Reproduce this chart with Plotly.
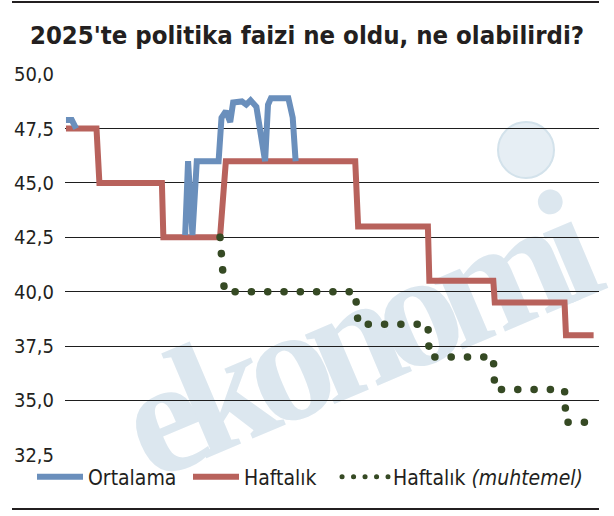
import plotly.graph_objects as go

# --- data ---
blue_dates = ["2025-01-01", "2025-01-05", "2025-01-08", "2025-02-15",
              "2025-03-24", "2025-03-26", "2025-03-29", "2025-04-01", "2025-04-16",
              "2025-04-18", "2025-04-21", "2025-04-24", "2025-04-26", "2025-05-02",
              "2025-05-05", "2025-05-08", "2025-05-12", "2025-05-18", "2025-05-20",
              "2025-05-22", "2025-06-03", "2025-06-06", "2025-06-08"]
blue_vals = [47.9, 47.9, 47.5, None,
             42.6, 46.0, 42.6, 46.0, 46.0,
             48.0, 48.3, 47.8, 48.7, 48.75,
             48.6, 48.8, 48.5, 46.0, 48.6,
             48.9, 48.9, 48.0, 46.0]

red_dates = ["2025-01-01", "2025-01-22", "2025-01-24", "2025-03-08", "2025-03-09",
             "2025-04-17", "2025-04-21", "2025-07-19", "2025-07-21", "2025-09-07",
             "2025-09-08", "2025-10-22", "2025-10-23", "2025-12-10", "2025-12-11",
             "2025-12-30"]
red_vals = [47.5, 47.5, 45, 45, 42.5, 42.5, 46, 46, 43, 43, 40.5, 40.5, 39.5, 39.5, 38, 38]

green_dates = ["2025-04-17", "2025-04-20", "2025-07-19", "2025-07-21", "2025-09-07",
               "2025-09-08", "2025-10-22", "2025-10-23", "2025-12-10", "2025-12-11",
               "2025-12-30"]
green_vals = [42.5, 40, 40, 38.5, 38.5, 37, 37, 35.5, 35.5, 34, 34]

y_ticks = [32.5, 35.0, 37.5, 40.0, 42.5, 45.0, 47.5, 50.0]

FONT = "DejaVu Sans Condensed, Liberation Sans Narrow, DejaVu Sans, sans-serif"
INK = "#231f20"
BLUE = "#6a8fbc"
RED = "#b8625c"
GREEN = "#364a24"

fig = go.Figure()
fig.add_trace(go.Scatter(x=red_dates, y=red_vals, mode="lines", name="Haftalık",
                         line=dict(color=RED, width=6), legend="legend2"))
fig.add_trace(go.Scatter(x=green_dates, y=green_vals, mode="lines", uid="muhtemel",
                         name="Haftalık <i>(muhtemel)</i>",
                         line=dict(color=GREEN, width=7.5, dash="0.1px,16.2px"),
                         legend="legend3"))
fig.add_trace(go.Scatter(x=blue_dates, y=blue_vals, mode="lines", name="Ortalama",
                         line=dict(color=BLUE, width=6), legend="legend"))

# paper coords: plot area is x 65..599, y 74..455 px
def px(x):
    return (x - 65) / 534

def py(y):
    return (455 - y) / 381

shapes = [
    # watermark text
    dict(type="rect", xref="paper", yref="paper", layer="below",
         x0=px(344) - 0.4, x1=px(344) + 0.4, y0=py(320) - 0.3, y1=py(320) + 0.3,
         line=dict(width=0), fillcolor="rgba(0,0,0,0)",
         label=dict(text="ekonomi", textangle=-23, textposition="middle center",
                    font=dict(family="Liberation Serif, DejaVu Serif, serif", size=164,
                              color="#dce7ef", weight="bold"))),
    # watermark globe
    dict(type="circle", xref="paper", yref="paper", layer="below",
         x0=px(498), x1=px(554), y0=py(178), y1=py(122),
         fillcolor="#e6eef4", line=dict(color="#d3e2eb", width=2)),
    # frame lines top and bottom
    dict(type="line", xref="paper", yref="paper", x0=px(12), x1=1, y0=py(2), y1=py(2),
         line=dict(color=INK, width=2)),
    dict(type="line", xref="paper", yref="paper", x0=px(12), x1=1, y0=py(509), y1=py(509),
         line=dict(color=INK, width=2)),
]

legend_style = dict(orientation="h", xanchor="left", y=py(477), yanchor="middle",
                    font=dict(size=21, color=INK), itemwidth=46,
                    bgcolor="rgba(0,0,0,0)")

fig.update_layout(
    width=614, height=516,
    margin=dict(l=65, r=15, t=74, b=61),
    paper_bgcolor="white", plot_bgcolor="white",
    separators=",.",
    font=dict(family=FONT, color=INK, size=20),
    title=dict(text="2025'te politika faizi ne oldu, ne olabilirdi?",
               x=0.5, xref="container", xanchor="center",
               y=1 - 35 / 516, yref="container", yanchor="middle",
               font=dict(family=FONT, size=25.5, color=INK, weight="bold")),
    xaxis=dict(type="date", range=["2024-12-31 08:00", "2026-01-02 17:00"],
               showgrid=False, showticklabels=False, zeroline=False, showline=False),
    yaxis=dict(range=[32.49, 50.01], tickvals=y_ticks, tickformat=".1f",
               showgrid=True, gridcolor="#1e1e1e", gridwidth=1.3,
               zeroline=False, showline=False, ticks="", ticklabelstandoff=10,
               tickfont=dict(size=20, color=INK)),
    legend=dict(legend_style, x=px(32)),
    legend2=dict(legend_style, x=px(188)),
    legend3=dict(legend_style, x=px(337)),
    shapes=shapes,
    showlegend=True,
)

post = """
document.body.style.margin = '0';
var s = document.createElement('style');
s.innerHTML = '.tracemuhtemel path.js-line{stroke-linecap:round}' +
  '.legend3 path.js-line{stroke-linecap:round;stroke-width:5px!important;stroke-dasharray:0.1px,11.4px!important}' +
  '.layer-below .shapelayer text{letter-spacing:-17px}';
document.head.appendChild(s);
"""

fig.write_html("out.html", post_script=post, config={"displayModeBar": False})
